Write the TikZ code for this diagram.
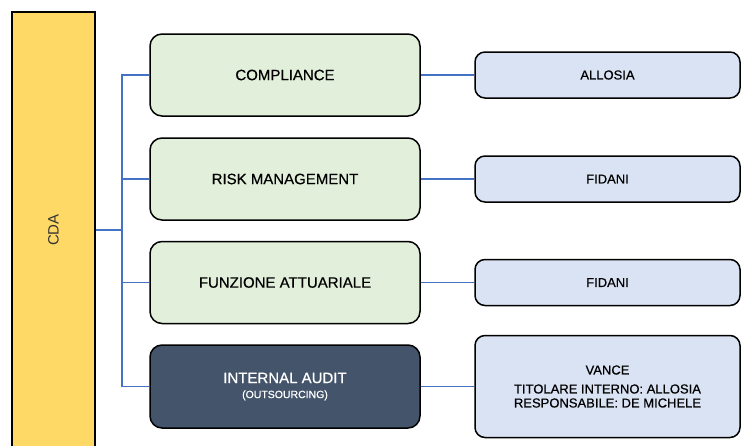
\documentclass[tikz,border=0pt]{standalone}
\usepackage{fontspec}
\setmainfont{Liberation Sans}
\newfontface\vocefont{Liberation Sans}[FakeBold=0.5]
\definecolor{cdayellow}{HTML}{FFD966}
\definecolor{funzgreen}{HTML}{E2EFDA}
\definecolor{titblue}{HTML}{DAE3F3}
\definecolor{auditdark}{HTML}{44546A}
\definecolor{linkblue}{HTML}{4472C4}
\begin{document}
\begin{tikzpicture}[x=1pt, y=-1pt,
	cdabox/.style={draw, line width=1.5pt, fill=cdayellow, rotate=90, minimum width=436pt, minimum height=83pt, inner sep=0pt, text=black!80, font=\fontsize{15}{18}\selectfont},
	funzione/.style={draw, line width=1.5pt, rounded corners=12pt, fill=funzgreen, minimum width=270pt, minimum height=82pt, align=center, font=\vocefont\fontsize{15}{18}\selectfont},
	titolare/.style={draw, line width=1.5pt, rounded corners=10pt, fill=titblue, minimum width=265pt, minimum height=46pt, align=center, font=\vocefont\fontsize{13}{16}\selectfont},
	linea/.style={draw=linkblue, line width=1.5pt}]
	  \useasboundingbox (0,0) rectangle (741,445);

	  \node [cdabox] (cda) at (53.5,230) {CDA};
	  \coordinate (bus) at (122,230);

	  \node [funzione] (compliance) at (285,75) {COMPLIANCE};
	  \node [funzione] (risk) at (285,179) {RISK MANAGEMENT};
	  \node [funzione] (attuariale) at (285,282.5) {FUNZIONE ATTUARIALE};
	  \node [funzione, fill=auditdark, text=white, minimum height=83pt] (audit) at (285,386.5) {INTERNAL AUDIT\\[-3pt]{\fontsize{10.5}{13}\selectfont (OUTSOURCING)}};

	  \node [titolare] (allosia) at (607.5,75) {ALLOSIA};
	  \node [titolare] (fidanirisk) at (607.5,179) {FIDANI};
	  \node [titolare] (fidaniatt) at (607.5,282.5) {FIDANI};
	  \node [titolare, minimum height=102pt] (vance) at (607.5,386.5) {VANCE\\[3pt]TITOLARE INTERNO: ALLOSIA\\[-2pt]RESPONSABILE: DE MICHELE};

	  \draw [linea] (cda.south) -- (bus);
	  \draw [linea] (bus) |- (compliance.west);
	  \draw [linea] (bus) |- (risk.west);
	  \draw [linea] (bus) |- (attuariale.west);
	  \draw [linea] (bus) |- (audit.west);

	  \draw [linea] (compliance.east) -- (allosia.west);
	  \draw [linea] (risk.east) -- (fidanirisk.west);
	  \draw [linea] (attuariale.east) -- (fidaniatt.west);
	  \draw [linea] (audit.east) -- (vance.west);
	\end{tikzpicture}
\end{document}
